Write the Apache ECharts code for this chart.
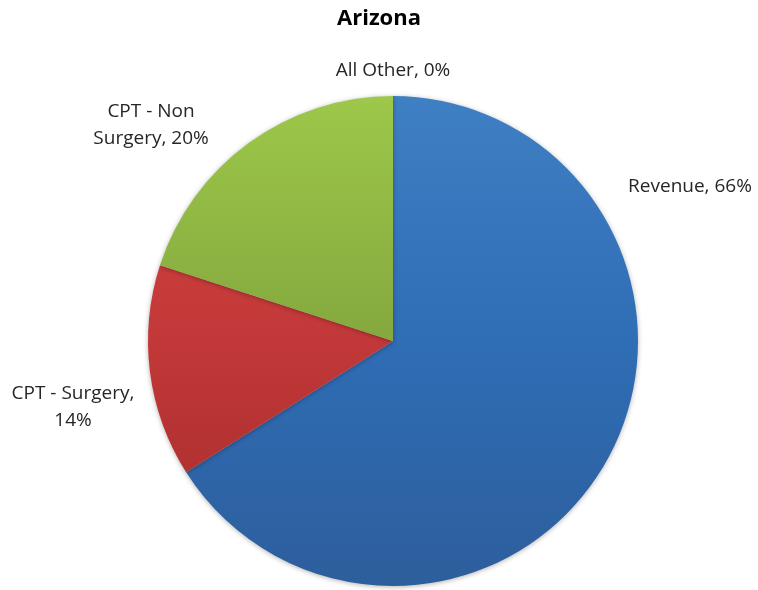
<!DOCTYPE html>
<html lang="en">
<head>
    <meta charset="UTF-8">
    <title>Arizona</title>
    <script src="https://cdn.jsdelivr.net/npm/echarts@6/dist/echarts.min.js"></script>
    <style>
        html, body { margin: 0; padding: 0; background: #fff; }
    </style>
</head>
<body>
<div id="echart" style="width:758px;height:590px;"></div>
<script>
    // data
    var categories = ['Revenue', 'CPT - Surgery', 'CPT - Non Surgery', 'All Other'];
    var values = [66, 14, 20, 0];
    var labelSpots = [[690, 187], [73, 407], [151, 125], [393, 71]]; // label centers

    var wrapped = {
        'CPT - Surgery': 'CPT - Surgery,\n',
        'CPT - Non Surgery': 'CPT - Non\nSurgery, '
    };

    function grad(top, mid, bottom) {
        return {
            type: 'linear', x: 0, y: 96, x2: 0, y2: 587, global: true,
            colorStops: [
                {offset: 0, color: top},
                {offset: 0.5, color: mid},
                {offset: 1, color: bottom}
            ]
        };
    }
    var colors = [
        grad('#3f7fc3', '#2f6db5', '#2d5e9c'),
        grad('#d84343', '#c23838', '#a42b2b'),
        grad('#9dc84a', '#84a83e', '#739237'),
        grad('#9dc84a', '#84a83e', '#739237')
    ];

    var mychart = echarts.init(document.getElementById('echart'));
    var pieData = [];
    for (var i = 0; i < categories.length; i++) {
        pieData.push({name: categories[i], value: values[i], itemStyle: {color: colors[i]}});
    }

    var option = {
        animation: false,
        title: {
            text: 'Arizona',
            left: 'center',
            top: 3,
            textStyle: {fontFamily: 'Open Sans', fontSize: 22, fontWeight: 'bold', color: '#000'}
        },
        series: [{
            type: 'pie',
            center: [393, 341],
            radius: 245,
            startAngle: 90,
            clockwise: true,
            itemStyle: {
                borderWidth: 0,
                shadowBlur: 5,
                shadowColor: 'rgba(0,0,0,0.3)',
                shadowOffsetY: 1
            },
            emphasis: {disabled: true},
            label: {
                show: true,
                position: 'outside',
                fontFamily: 'Open Sans',
                fontSize: 19,
                lineHeight: 27,
                color: '#262626',
                align: 'center',
                overflow: 'none',
                width: 200,
                formatter: function (p) {
                    var head = wrapped[p.name] || (p.name + ', ');
                    return head + p.value + '%';
                }
            },
            labelLine: {show: false},
            labelLayout: function (p) {
                var s = labelSpots[p.dataIndex];
                return {x: s[0], y: s[1], align: 'center', verticalAlign: 'middle'};
            },
            data: pieData
        }]
    };

    mychart.setOption(option);
</script>
</body>
</html>
